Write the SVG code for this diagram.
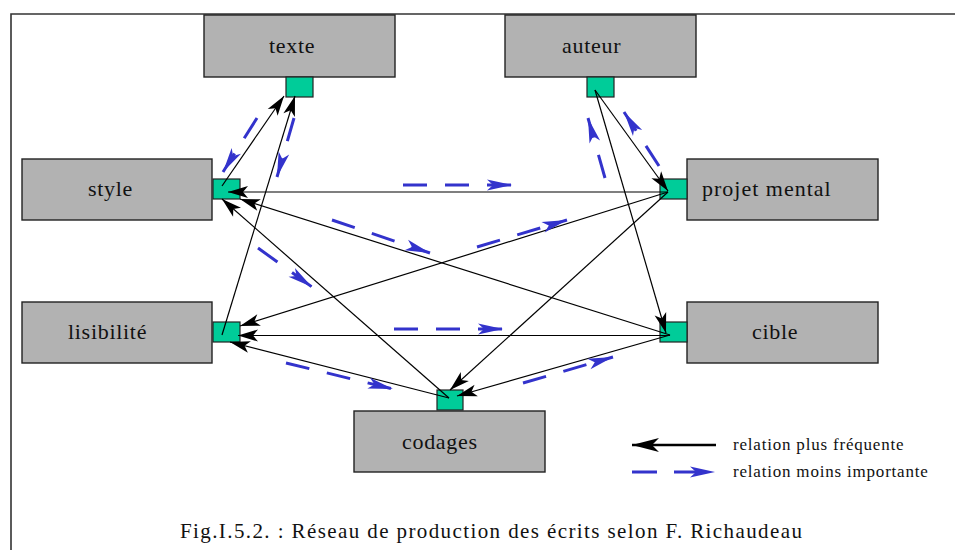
<svg xmlns="http://www.w3.org/2000/svg" width="955" height="550" viewBox="0 0 955 550">
<style>
.box{fill:#B2B2B2;stroke:#222;stroke-width:1.4}
.port{fill:#00CC99;stroke:#222;stroke-width:1.2}
text{font-family:'Liberation Serif','Times New Roman',serif;fill:#111}
.lbl{font-size:22px}
.leg{font-size:17px}
.cap{font-size:21px}
.blk{stroke:#000;stroke-width:1.2;fill:none;marker-end:url(#ab)}
.blu{stroke:#3333CC;stroke-width:3;fill:none;stroke-dasharray:24 18;marker-end:url(#au)}
</style>
<defs>
<marker id="ab" markerUnits="userSpaceOnUse" markerWidth="24" markerHeight="14" refX="20" refY="6" orient="auto" overflow="visible">
<path d="M0,0 L20,6 L0,12 L5,6 Z" fill="#000"/>
</marker>
<marker id="au" markerUnits="userSpaceOnUse" markerWidth="28" markerHeight="14" refX="25" refY="5.5" orient="auto" overflow="visible">
<path d="M0,0 L25,5.5 L0,11 L6,5.5 Z" fill="#3333CC"/>
</marker>
<marker id="abl" markerUnits="userSpaceOnUse" markerWidth="30" markerHeight="16" refX="27" refY="7" orient="auto" overflow="visible">
<path d="M0,0 L27,7 L0,14 L7,7 Z" fill="#000"/>
</marker>
</defs>
<rect width="955" height="550" fill="#fff"/>
<path d="M11,550 L11,14 L955,14" fill="none" stroke="#333" stroke-width="1.6"/>

<g id="texte"><rect class="box" x="204" y="15" width="191" height="62"/><rect class="port" x="286" y="77" width="27" height="20"/><text class="lbl" x="269" y="53" style="letter-spacing:0.7px">texte</text></g>
<g id="auteur"><rect class="box" x="505" y="15" width="191" height="62"/><rect class="port" x="587" y="77" width="27" height="20"/><text class="lbl" x="562" y="53" style="letter-spacing:0.7px">auteur</text></g>
<g id="style"><rect class="box" x="22" y="159" width="190" height="61"/><rect class="port" x="213" y="179" width="27" height="20"/><text class="lbl" x="88" y="196" style="letter-spacing:0.7px">style</text></g>
<g id="projet-mental"><rect class="box" x="687" y="159" width="191" height="61"/><rect class="port" x="660" y="179" width="27" height="20"/><text class="lbl" x="702" y="196" style="letter-spacing:1px">projet mental</text></g>
<g id="lisibilite"><rect class="box" x="22" y="302" width="190" height="61"/><rect class="port" x="213" y="322" width="27" height="20"/><text class="lbl" x="68" y="339" style="letter-spacing:0.7px">lisibilité</text></g>
<g id="cible"><rect class="box" x="687" y="302" width="191" height="61"/><rect class="port" x="660" y="322" width="27" height="20"/><text class="lbl" x="752" y="339" style="letter-spacing:0.7px">cible</text></g>
<g id="codages"><rect class="box" x="354" y="411" width="191" height="61"/><rect class="port" x="437" y="390" width="26" height="20"/><text class="lbl" x="402" y="449" style="letter-spacing:0.7px">codages</text></g>

<g id="connectors">
<path class="blk" d="M222,186 L284,96"/>
<path class="blk" d="M222,335 L295,96"/>
<path class="blk" d="M668,192 L228,192"/>
<path class="blk" d="M670,335 L240,199"/>
<path class="blk" d="M449,398 L222,199"/>
<path class="blk" d="M668,192 L240,326"/>
<path class="blk" d="M670,335.5 L238,335.5"/>
<path class="blk" d="M449,398 L230,342"/>
<path class="blk" d="M595,90 L668,191"/>
<path class="blk" d="M595,90 L666,333"/>
<path class="blk" d="M668,192 L450,390"/>
<path class="blk" d="M670,335 L457,396"/>

<path class="blu" d="M257,118 L223,172"/>
<path class="blu" d="M294,118 L277,177"/>
<path class="blu" d="M403,185 L512,185"/>
<path class="blu" d="M332,220 L430,253"/>
<path class="blu" d="M258,248 L312,287"/>
<path class="blu" d="M477,247 L567,220"/>
<path class="blu" d="M394,329 L503,329"/>
<path class="blu" d="M286,363 L393,389"/>
<path class="blu" d="M523,383 L613,357"/>
<path class="blu" d="M659,166 L624,112"/>
<path class="blu" d="M605,178 L588,118"/>
</g>

<g id="legend">
<path d="M716,445 L632,445" stroke="#000" stroke-width="2.4" fill="none" marker-end="url(#abl)"/>
<path class="blu" d="M632,472 L715,472" style="stroke-dasharray:25 17"/>
<text class="leg" x="733" y="450" style="letter-spacing:0.8px">relation plus fréquente</text>
<text class="leg" x="733" y="477" style="letter-spacing:0.8px">relation moins importante</text>
</g>
<text class="cap" x="180" y="538" style="letter-spacing:1.4px">Fig.I.5.2. : Réseau de production des écrits selon F. Richaudeau</text>
</svg>
